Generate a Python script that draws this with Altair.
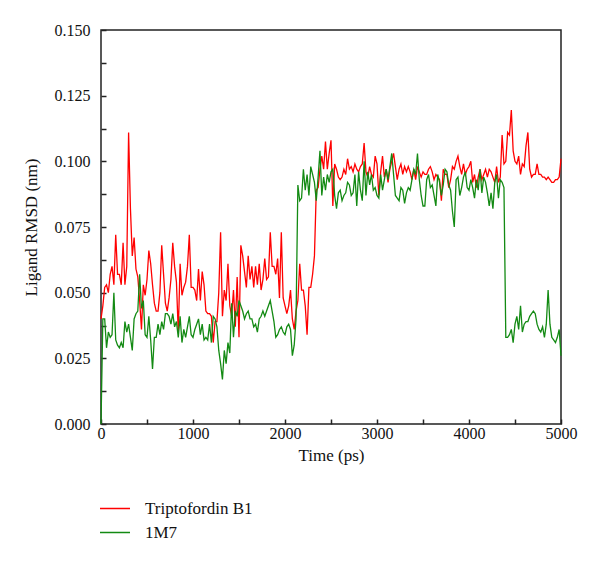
import altair as alt
import pandas as pd

series_names = ["Triptofordin B1", "1M7"]
series_colors = ["#ff0000", "#138a13"]

time_ps = list(range(0, 5001, 20))

tripto = [
    0.040, 0.045, 0.052, 0.053, 0.050, 0.057, 0.060, 0.053, 0.072, 0.057,
    0.057, 0.053, 0.069, 0.053, 0.060, 0.111, 0.082, 0.064, 0.071, 0.059,
    0.056, 0.047, 0.036, 0.053, 0.049, 0.055, 0.066, 0.061, 0.053, 0.046,
    0.043, 0.043, 0.050, 0.068, 0.057, 0.046, 0.043, 0.048, 0.055, 0.069,
    0.060, 0.054, 0.035, 0.061, 0.049, 0.052, 0.054, 0.060, 0.072, 0.052,
    0.052, 0.051, 0.047, 0.059, 0.047, 0.058, 0.053, 0.043, 0.042, 0.042,
    0.041, 0.031, 0.039, 0.039, 0.050, 0.073, 0.041, 0.051, 0.047, 0.061,
    0.045, 0.041, 0.051, 0.037, 0.056, 0.033, 0.068, 0.064, 0.058, 0.052,
    0.064, 0.055, 0.060, 0.052, 0.060, 0.053, 0.061, 0.051, 0.055, 0.063,
    0.055, 0.056, 0.073, 0.060, 0.060, 0.057, 0.063, 0.048, 0.073, 0.048,
    0.045, 0.042, 0.045, 0.051, 0.040, 0.036, 0.043, 0.047, 0.061, 0.051,
    0.051, 0.045, 0.034, 0.052, 0.052, 0.057, 0.064, 0.089, 0.090, 0.097,
    0.102, 0.097, 0.1075, 0.097, 0.103, 0.108, 0.083, 0.099, 0.097, 0.094,
    0.093, 0.094, 0.097, 0.095, 0.101, 0.097, 0.098, 0.096, 0.099, 0.097,
    0.096, 0.098, 0.099, 0.107, 0.096, 0.094, 0.098, 0.095, 0.094, 0.102,
    0.099, 0.087, 0.096, 0.102, 0.094, 0.097, 0.092, 0.097, 0.100, 0.103,
    0.098, 0.093, 0.097, 0.099, 0.095, 0.098, 0.096, 0.098, 0.096, 0.093,
    0.097, 0.093, 0.098, 0.096, 0.094, 0.096, 0.095, 0.095, 0.097, 0.098,
    0.096, 0.093, 0.095, 0.094, 0.093, 0.085, 0.097, 0.095, 0.095, 0.090,
    0.093, 0.098, 0.097, 0.100, 0.102, 0.098, 0.095, 0.099, 0.095, 0.097,
    0.098, 0.100, 0.092, 0.095, 0.090, 0.094, 0.097, 0.093, 0.095, 0.097,
    0.094, 0.097, 0.096, 0.094, 0.092, 0.098, 0.092, 0.094, 0.110, 0.099,
    0.100, 0.111, 0.110, 0.1195, 0.104, 0.100, 0.099, 0.102, 0.095, 0.099,
    0.098, 0.106, 0.111, 0.097, 0.094, 0.095, 0.095, 0.099, 0.095, 0.095,
    0.094, 0.094, 0.093, 0.094, 0.093, 0.092, 0.092, 0.093, 0.093, 0.094,
    0.101,
]

m7 = [
    0.000, 0.040, 0.040, 0.029, 0.035, 0.033, 0.034, 0.050, 0.032, 0.030,
    0.029, 0.031, 0.029, 0.039, 0.035, 0.038, 0.033, 0.028, 0.040, 0.042,
    0.043, 0.057, 0.044, 0.047, 0.034, 0.033, 0.041, 0.032, 0.021, 0.033,
    0.033, 0.038, 0.034, 0.039, 0.036, 0.042, 0.042, 0.041, 0.038, 0.042,
    0.037, 0.039, 0.033, 0.041, 0.031, 0.036, 0.033, 0.037, 0.041, 0.034,
    0.033, 0.036, 0.038, 0.040, 0.034, 0.038, 0.032, 0.033, 0.032, 0.038,
    0.031, 0.041, 0.040, 0.037, 0.028, 0.023, 0.017, 0.028, 0.023, 0.031,
    0.027, 0.046, 0.033, 0.043, 0.041, 0.047, 0.045, 0.043, 0.040, 0.042,
    0.043, 0.040, 0.040, 0.037, 0.038, 0.035, 0.040, 0.041, 0.043, 0.041,
    0.043, 0.045, 0.047, 0.043, 0.039, 0.033, 0.034, 0.036, 0.037, 0.035,
    0.034, 0.037, 0.038, 0.036, 0.026, 0.030, 0.040, 0.091, 0.085, 0.086,
    0.097, 0.089, 0.095, 0.087, 0.098, 0.095, 0.092, 0.085, 0.094, 0.104,
    0.087, 0.094, 0.089, 0.095, 0.092, 0.096, 0.097, 0.087, 0.082, 0.088,
    0.089, 0.085, 0.087, 0.088, 0.092, 0.091, 0.087, 0.088, 0.095, 0.083,
    0.096, 0.089, 0.085, 0.100, 0.087, 0.096, 0.091, 0.095, 0.089, 0.090,
    0.087, 0.086, 0.095, 0.089, 0.093, 0.097, 0.093, 0.098, 0.103, 0.095,
    0.087, 0.086, 0.085, 0.090, 0.089, 0.084, 0.088, 0.090, 0.089, 0.093,
    0.097, 0.095, 0.103, 0.093, 0.087, 0.083, 0.083, 0.093, 0.095, 0.090,
    0.091, 0.087, 0.083, 0.095, 0.092, 0.087, 0.091, 0.097, 0.096, 0.091,
    0.089, 0.081, 0.075, 0.093, 0.094, 0.087, 0.090, 0.094, 0.096, 0.090,
    0.089, 0.093, 0.090, 0.086, 0.093, 0.089, 0.097, 0.088, 0.094, 0.092,
    0.088, 0.083, 0.088, 0.082, 0.092, 0.095, 0.086, 0.093, 0.092, 0.090,
    0.033, 0.033, 0.034, 0.036, 0.031, 0.038, 0.041, 0.036, 0.045, 0.035,
    0.038, 0.039, 0.039, 0.041, 0.042, 0.043, 0.042, 0.038, 0.036, 0.035,
    0.037, 0.033, 0.038, 0.051, 0.038, 0.033, 0.032, 0.031, 0.033, 0.036,
    0.026,
]

x_ticks = list(range(0, 5001, 500))
y_ticks = [round(i * 0.0125, 4) for i in range(13)]

rows = []
for name, vals in zip(series_names, [tripto, m7]):
    for t, v in zip(time_ps, vals):
        rows.append({"time": t, "rmsd": v, "series": name})
df = pd.DataFrame(rows)

FONT = "Liberation Serif"
AX = "#222222"
TXT = "#111111"

chart = alt.Chart(df).mark_line(strokeWidth=1.3).encode(
    x=alt.X("time:Q",
            scale=alt.Scale(domain=[0, 5000], nice=False, zero=False),
            axis=alt.Axis(values=x_ticks, format="d",
                          labelExpr="datum.value % 1000 == 0 ? datum.label : ''",
                          title="Time (ps)", offset=-5, tickSize=5, domain=False,
                          tickColor=AX, tickWidth=1.5, labelPadding=1,
                          labelFlush=False, labelOverlap=False,
                          titlePadding=6, grid=False)),
    y=alt.Y("rmsd:Q",
            scale=alt.Scale(domain=[0, 0.15], nice=False, zero=False),
            axis=alt.Axis(values=y_ticks, format=".3f",
                          labelExpr="round(datum.value * 10000) % 250 == 0 ? datum.label : ''",
                          title="Ligand RMSD (nm)", offset=-5, tickSize=5, domain=False,
                          tickColor=AX, tickWidth=1.5, labelPadding=11,
                          labelFlush=False, labelOverlap=False,
                          titlePadding=14, grid=False)),
    color=alt.Color("series:N",
                    scale=alt.Scale(domain=series_names, range=series_colors),
                    sort=series_names,
                    legend=alt.Legend(title=None, orient="none", legendX=-2, legendY=470,
                                      symbolType="stroke", symbolSize=900,
                                      symbolStrokeWidth=1.5, labelOffset=14,
                                      clipHeight=17, rowPadding=6, padding=0,
                                      labelFont=FONT, labelFontSize=17,
                                      labelColor=TXT)),
    order=alt.Order("time:Q"),
).properties(
    width=460, height=394,
    autosize=alt.AutoSizeParams(type="none"),
    padding={"left": 93, "top": 22, "right": 30, "bottom": 130},
).configure(
    font=FONT
).configure_view(
    stroke=AX, strokeWidth=1.5
).configure_axis(
    labelFont=FONT, titleFont=FONT, labelFontSize=16, titleFontSize=17,
    labelColor=TXT, titleColor=TXT, titleFontWeight="normal",
).configure_legend(
    labelFont=FONT, labelFontSize=17, labelColor=TXT,
)

chart.save("out.html", embed_options={"renderer": "svg", "actions": False})
